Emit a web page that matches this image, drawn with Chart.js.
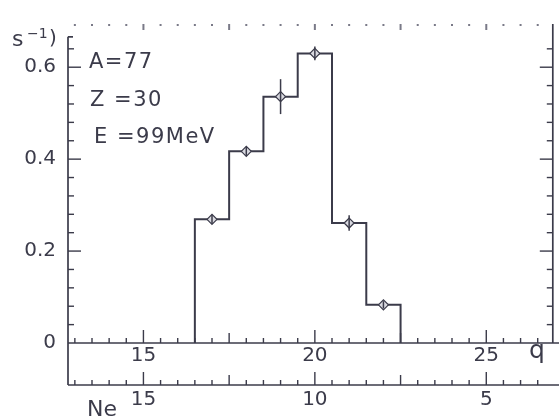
<!DOCTYPE html>
<html>
<head>
<meta charset="utf-8">
<script src="https://cdn.jsdelivr.net/npm/chart.js@4/dist/chart.umd.min.js"></script>
<style>
	html, body { margin: 0; padding: 0; background: #fff; }
	#wrap { width: 559px; height: 418px; }
</style>
</head>
<body>
<div id="wrap"><canvas id="chart" width="559" height="418"></canvas></div>
<script>
// Charge state distribution, bins of width 1 centred on each q
var chargeStates = [ 17, 18, 19, 20, 21, 22 ];
var yieldValues  = [ 0.269, 0.417, 0.536, 0.630, 0.261, 0.083 ];
var yieldErrors  = [ 0.010, 0.010, 0.038, 0.015, 0.017, 0.008 ];
var binWidth = 1;

// tick labels
var qTicks  = [ 15, 20, 25 ];
var neTicks = [ 15, 10, 5 ];
var yTicks  = [ 0, 0.2, 0.4, 0.6 ];
var atomicZ = 30;	// Ne = Z - q

var infoLines = [ 'A=77', 'Z =30', 'E =99MeV' ];

var qMin = 12.80, qMax = 26.94, yMax = 0.694;
var INK = '#3b3b4a';
var FONT = '"DejaVu Sans", "Liberation Sans", sans-serif';

// step outline of the histogram, built from the bin centres
var stepData = [ { x: chargeStates[0] - binWidth / 2, y: 0 } ];
chargeStates.forEach(function(c, i) {
	stepData.push({ x: c + binWidth / 2, y: yieldValues[i] });
});
stepData.push({ x: chargeStates[chargeStates.length - 1] + binWidth / 2, y: 0 });

var markerData = chargeStates.map(function(c, i) { return { x: c, y: yieldValues[i] }; });

function line(ctx, x1, y1, x2, y2) {
	ctx.beginPath();
	ctx.moveTo(x1, y1);
	ctx.lineTo(x2, y2);
	ctx.stroke();
}

// axes frame, tick marks and free text
var framePlugin = {
	id: 'frame',
	afterDraw: function(chart) {
		var ctx = chart.ctx;
		var ca = chart.chartArea;
		var xs = chart.scales.x, ys = chart.scales.y, ne = chart.scales.ne;
		var neLine = ne.top;
		var v, px, len;
		ctx.save();
		ctx.strokeStyle = INK;
		ctx.lineWidth = 1.7;

		// left axis with bracket at the top
		var yTop = ys.getPixelForValue(0.666);
		line(ctx, ca.left, yTop, ca.left, neLine);
		line(ctx, ca.left, yTop, ca.left + 5, yTop);
		// right axis
		line(ctx, ca.right, ca.top, ca.right, ca.bottom);
		// q axis and Ne axis
		line(ctx, ca.left, ca.bottom, chart.width, ca.bottom);
		line(ctx, ca.left, neLine, chart.width, neLine);

		// y ticks (left and right)
		ctx.lineWidth = 1.4;
		for (v = 0.04; v < 0.68; v += 0.04) {
			px = ys.getPixelForValue(v);
			len = (Math.abs(v / 0.2 - Math.round(v / 0.2)) < 0.01) ? 13 : 6;
			line(ctx, ca.left, px, ca.left + len, px);
			line(ctx, ca.right, px, ca.right - len, px);
		}

		// q ticks, pointing up
		for (v = 13; v <= 26.5; v += 0.5) {
			px = xs.getPixelForValue(v);
			len = (v % 5 === 0) ? 13 : ((v % 2.5 === 0) ? 10 : 5);
			line(ctx, px, ca.bottom, px, ca.bottom - len);
		}
		// Ne ticks, pointing up
		for (v = 3.5; v <= 17; v += 0.5) {
			px = ne.getPixelForValue(v);
			len = (v % 5 === 0) ? 13 : ((v % 2.5 === 0) ? 10 : 5);
			line(ctx, px, neLine, px, neLine - len);
		}
		// faint top axis: dots with small ticks
		ctx.fillStyle = '#7a7a88';
		for (v = 13; v <= 26.5; v += 0.5) {
			px = xs.getPixelForValue(v);
			if (v % 2.5 === 0) {
				ctx.fillRect(px - 1, ca.top, 2, 6);
			} else {
				ctx.fillRect(px - 1, ca.top, 2, 2);
			}
		}

		// free text
		ctx.fillStyle = INK;
		ctx.textBaseline = 'alphabetic';
		ctx.textAlign = 'left';
		ctx.font = '22px ' + FONT;
		ctx.fillText('s', 12, 46);
		ctx.font = '14px ' + FONT;
		ctx.fillText('\u22121', 27, 38);
		ctx.font = '20px ' + FONT;
		ctx.fillText(')', 49, 44);
		ctx.font = '21px ' + FONT;
		if ('letterSpacing' in ctx) ctx.letterSpacing = '1.5px';
		ctx.fillText(infoLines[0], 89, 68);
		ctx.fillText(infoLines[1], 90, 106);
		ctx.fillText(infoLines[2], 94, 143);
		if ('letterSpacing' in ctx) ctx.letterSpacing = '0px';
		ctx.font = '25px ' + FONT;
		ctx.fillText('q', 529, 358);
		ctx.font = '22px ' + FONT;
		ctx.fillText('Ne', 87, 416);
		ctx.restore();
	}
};

// vertical error bars at the bin centres
var errorBarPlugin = {
	id: 'errorBars',
	afterDatasetsDraw: function(chart) {
		var ctx = chart.ctx;
		var xs = chart.scales.x, ys = chart.scales.y;
		ctx.save();
		ctx.strokeStyle = INK;
		ctx.lineWidth = 1.5;
		chargeStates.forEach(function(c, i) {
			var px = xs.getPixelForValue(c);
			line(ctx, px, ys.getPixelForValue(yieldValues[i] - yieldErrors[i]),
			          px, ys.getPixelForValue(yieldValues[i] + yieldErrors[i]));
		});
		ctx.restore();
	}
};

var ctx = document.getElementById('chart');
var cfg = {
	type: 'line',
	data: {
		datasets: [
			{	label: 'histogram',
				data: stepData,
				stepped: 'after',
				borderColor: INK,
				borderWidth: 2,
				pointRadius: 0,
				fill: false,
				order: 2
			},
			{	label: 'points',
				data: markerData,
				showLine: false,
				pointStyle: 'rectRot',
				pointRadius: 5,
				pointBackgroundColor: '#d9d9e0',
				pointBorderColor: INK,
				pointBorderWidth: 1.2,
				order: 1
			}
		]
	},
	options: {
		responsive: false,
		animation: false,
		events: [],
		layout: { padding: { top: 18, right: 2, left: 0, bottom: 0 } },
		plugins: {
			legend: { display: false },
			tooltip: { enabled: false }
		},
		scales: {
			x: {
				type: 'linear', position: 'bottom', weight: 0,
				min: qMin, max: qMax,
				grid: { display: false, drawTicks: false },
				border: { display: false },
				afterBuildTicks: function(s) { s.ticks = qTicks.map(function(v) { return { value: v }; }); },
				afterFit: function(s) { s.height = 42; },
				ticks: { padding: 1, color: INK, font: { family: FONT, size: 20 }, maxRotation: 0,
				         callback: function(v) { return String(v); } }
			},
			ne: {
				type: 'linear', position: 'bottom', weight: 1, reverse: true,
				min: atomicZ - qMax, max: atomicZ - qMin,
				grid: { display: false, drawTicks: false },
				border: { display: false },
				afterBuildTicks: function(s) { s.ticks = neTicks.map(function(v) { return { value: v }; }); },
				afterFit: function(s) { s.height = 33; },
				ticks: { padding: 3, color: INK, font: { family: FONT, size: 20 }, maxRotation: 0,
				         callback: function(v) { return String(v); } }
			},
			y: {
				type: 'linear', position: 'left',
				min: 0, max: yMax,
				grid: { display: false, drawTicks: false },
				border: { display: false },
				afterBuildTicks: function(s) { s.ticks = yTicks.map(function(v) { return { value: v }; }); },
				afterFit: function(s) { s.width = 68; },
				ticks: { padding: 12, color: INK, font: { family: FONT, size: 20 },
				         callback: function(v) { return v === 0 ? '0' : v.toFixed(1); } }
			}
		}
	},
	plugins: [ framePlugin, errorBarPlugin ]
};
new Chart(ctx, cfg);
</script>
</body>
</html>
